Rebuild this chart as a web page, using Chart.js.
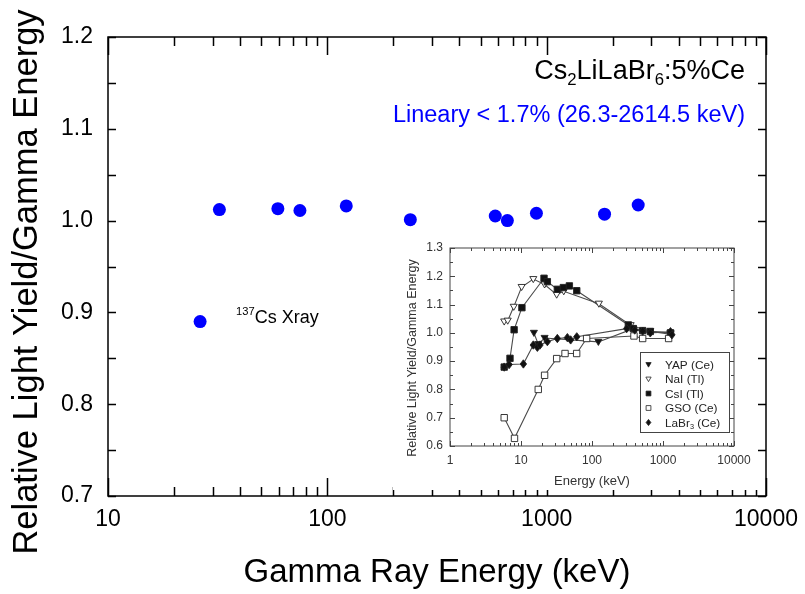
<!DOCTYPE html>
<html>
<head>
<meta charset="utf-8">
<script src="https://cdn.jsdelivr.net/npm/chart.js@4/dist/chart.umd.min.js"></script>
<style>
  body { margin: 0; background: #fff; }
  #wrap { position: relative; width: 805px; height: 594px; }
  #mainChart { position: absolute; left: 0; top: 0; }
  #insetChart { position: absolute; left: 393px; top: 233px; background: #fff; }
</style>
</head>
<body>
<div id="wrap">
  <canvas id="mainChart" width="805" height="594"></canvas>
  <canvas id="insetChart" width="365" height="257"></canvas>
</div>
<script>
// main chart: Cs2LiLaBr6:5%Ce
var energies = [26.3, 32.2, 59.5, 75, 122, 239, 583, 662, 898, 1836, 2614.5];
var yields = [0.890, 1.012, 1.013, 1.011, 1.016, 1.001, 1.005, 1.000, 1.008, 1.007, 1.017];
var xTicks = [10, 100, 1000, 10000];
var yTicks = [0.7, 0.8, 0.9, 1.0, 1.1, 1.2];

// inset chart: other scintillators
var insetXTicks = [1, 10, 100, 1000, 10000];
var insetYTicks = [0.6, 0.7, 0.8, 0.9, 1.0, 1.1, 1.2, 1.3];
var yapE = [15.2, 17.5, 21.5, 123, 382, 662, 1275];
var yapY = [1.00, 0.96, 0.982, 0.968, 1.015, 1.005, 0.995];
var naiE = [5.8, 6.5, 7.9, 10.2, 14.9, 21.5, 31.8, 40, 125, 350, 662, 1275];
var naiY = [1.04, 1.043, 1.092, 1.162, 1.19, 1.171, 1.135, 1.147, 1.103, 1.027, 1.005, 1.00];
var csiE = [5.8, 7.0, 8.0, 10.3, 21.1, 23.5, 32.5, 39.5, 48, 61, 325, 382, 517, 662, 1275];
var csiY = [0.879, 0.91, 1.011, 1.089, 1.193, 1.181, 1.154, 1.16, 1.166, 1.149, 1.028, 1.015, 1.008, 1.005, 1.00];
var gsoE = [5.8, 8.1, 17.5, 21.5, 31.8, 41.7, 60.8, 84, 390, 517, 1200];
var gsoY = [0.70, 0.627, 0.80, 0.85, 0.909, 0.927, 0.927, 0.98, 0.989, 0.98, 0.98];
var labE = [5.8, 6.8, 10.8, 14.9, 17, 18.5, 23.5, 32.5, 45, 50, 61, 308, 400, 517, 662, 1275, 1333];
var labY = [0.879, 0.888, 0.89, 0.957, 0.949, 0.957, 0.969, 0.98, 0.983, 0.975, 0.986, 1.015, 1.01, 1.006, 1.00, 1.004, 0.993];

var FONT = 'Liberation Sans, Arial, sans-serif';

function pts(xs, ys) {
  return xs.map(function (x, i) { return { x: x, y: ys[i] }; });
}

// keep the plot area exactly where the layout padding puts it
function noOverflow(s) {
  s.paddingLeft = 0; s.paddingRight = 0; s.paddingTop = 0; s.paddingBottom = 0;
}

// box round the plot with inward ticks on all four sides
var frameTicks = {
  id: 'frameTicks',
  afterDraw: function (chart, args, o) {
    var ctx = chart.ctx, a = chart.chartArea;
    var xs = chart.scales.x, ys = chart.scales.y;
    ctx.save();
    ctx.strokeStyle = o.color;
    ctx.lineWidth = o.width;
    ctx.strokeRect(a.left, a.top, a.right - a.left, a.bottom - a.top);
    ctx.beginPath();
    var e0 = Math.round(Math.log10(xs.min)), e1 = Math.round(Math.log10(xs.max));
    for (var e = e0; e <= e1; e++) {
      for (var k = 1; k <= 9; k++) {
        var v = k * Math.pow(10, e);
        if (v > xs.max * 1.0001) break;
        var px = Math.round(xs.getPixelForValue(v)) + 0.5;
        var len = k === 1 ? o.major : o.minor;
        ctx.moveTo(px, a.bottom); ctx.lineTo(px, a.bottom - len);
        ctx.moveTo(px, a.top); ctx.lineTo(px, a.top + len);
      }
    }
    var n = Math.round((ys.max - ys.min) / o.yStep);
    for (var i = 0; i <= n; i++) {
      var py = Math.round(ys.getPixelForValue(ys.min + i * o.yStep)) + 0.5;
      var yl = (i % 2 === 0) ? o.yMajor : o.yMinor;
      ctx.moveTo(a.left, py); ctx.lineTo(a.left + yl, py);
      ctx.moveTo(a.right, py); ctx.lineTo(a.right - yl, py);
    }
    ctx.stroke();
    ctx.restore();
  }
};

// text with sub / superscripts
function drawRuns(ctx, runs, x, y, size, color, align) {
  var w = 0;
  runs.forEach(function (r) {
    ctx.font = (r.s ? size * 0.62 : size) + 'px ' + FONT;
    r.w = ctx.measureText(r.t).width;
    w += r.w;
  });
  var cx = align === 'right' ? x - w : x;
  ctx.fillStyle = color;
  ctx.textBaseline = 'alphabetic';
  ctx.textAlign = 'left';
  runs.forEach(function (r) {
    ctx.font = (r.s ? size * 0.62 : size) + 'px ' + FONT;
    var dy = r.s === 'sub' ? size * 0.22 : (r.s === 'sup' ? -size * 0.42 : 0);
    ctx.fillText(r.t, cx, y + dy);
    cx += r.w;
  });
}

// rotated axis title, placed by centre point
function drawVTitle(ctx, text, cx, cy, size, color) {
  ctx.save();
  ctx.translate(cx, cy);
  ctx.rotate(-Math.PI / 2);
  ctx.font = size + 'px ' + FONT;
  ctx.fillStyle = color;
  ctx.textAlign = 'center';
  ctx.textBaseline = 'middle';
  ctx.fillText(text, 0, 0);
  ctx.restore();
}

var notes = {
  id: 'notes',
  afterDraw: function (chart) {
    var ctx = chart.ctx, a = chart.chartArea;
    var xs = chart.scales.x, ys = chart.scales.y;
    ctx.save();
    drawVTitle(ctx, 'Relative Light Yield/Gamma Energy', 27, 282, 34.5, '#000');
    drawRuns(ctx, [{ t: 'Cs' }, { t: '2', s: 'sub' }, { t: 'LiLaBr' }, { t: '6', s: 'sub' }, { t: ':5%Ce' }],
      a.right - 21, 79, 27, '#000', 'right');
    drawRuns(ctx, [{ t: 'Lineary < 1.7% (26.3-2614.5 keV)' }], a.right - 21, 122, 23.5, '#0000ff', 'right');
    var px = xs.getPixelForValue(energies[0]), py = ys.getPixelForValue(yields[0]);
    drawRuns(ctx, [{ t: '137', s: 'sup' }, { t: 'Cs Xray' }], px + 36, py + 1, 18, '#000', 'left');
    ctx.restore();
  }
};

new Chart(document.getElementById('mainChart'), {
  type: 'scatter',
  data: {
    datasets: [{
      data: pts(energies, yields),
      backgroundColor: '#0000ff',
      borderColor: '#0000ff',
      pointRadius: 6.5,
      pointHoverRadius: 6.5,
      borderWidth: 0
    }]
  },
  options: {
    responsive: false,
    animation: false,
    layout: { padding: { top: 37, right: 39, left: 0, bottom: 0 } },
    plugins: {
      legend: { display: false },
      tooltip: { enabled: false },
      frameTicks: { color: '#000', width: 1.5, major: 18, minor: 9, yStep: 0.05, yMajor: 8, yMinor: 8 }
    },
    scales: {
      x: {
        type: 'logarithmic', min: 10, max: 10000,
        grid: { display: false, drawTicks: false },
        border: { display: false },
        afterBuildTicks: function (s) { s.ticks = xTicks.map(function (v) { return { value: v }; }); },
        afterFit: function (s) { s.height = 98; noOverflow(s); },
        ticks: {
          autoSkip: false, maxRotation: 0, padding: 10, color: '#000',
          font: { family: FONT, size: 23 },
          callback: function (v) { return String(v); }
        },
        title: {
          display: true, text: 'Gamma Ray Energy (keV)', color: '#000',
          font: { family: FONT, size: 33 }, padding: { top: 0, bottom: 1 }
        }
      },
      y: {
        min: 0.7, max: 1.2,
        grid: { display: false, drawTicks: false },
        border: { display: false },
        afterBuildTicks: function (s) { s.ticks = yTicks.map(function (v) { return { value: v }; }); },
        afterFit: function (s) { s.width = 108; noOverflow(s); },
        ticks: {
          padding: 15, color: '#000',
          font: { family: FONT, size: 23 },
          callback: function (v) { return v.toFixed(1); }
        }
      }
    }
  },
  plugins: [frameTicks, notes]
});

// ---------- inset ----------
function markPath(ctx, style, r, x, y) {
  ctx.beginPath();
  if (style === 'rect') {
    ctx.rect(x - r, y - r, 2 * r, 2 * r);
  } else if (style === 'rectRot') {
    ctx.moveTo(x, y - r * 1.3); ctx.lineTo(x + r, y); ctx.lineTo(x, y + r * 1.3); ctx.lineTo(x - r, y);
    ctx.closePath();
  } else {
    ctx.moveTo(x - r * 1.1, y - r * 0.8); ctx.lineTo(x + r * 1.1, y - r * 0.8); ctx.lineTo(x, y + r * 1.1);
    ctx.closePath();
  }
}

var insetLegend = {
  id: 'insetLegend',
  afterDraw: function (chart) {
    var ctx = chart.ctx, a = chart.chartArea;
    var sets = chart.data.datasets;
    drawVTitle(ctx, 'Relative Light Yield/Gamma Energy', 20, 125, 12.5, '#333');
    var right = a.right - 5, bottom = a.bottom - 14, w = 89, h = 80, rowH = 14.5;
    var left = right - w, top = bottom - h;
    ctx.save();
    ctx.fillStyle = '#fff';
    ctx.fillRect(left, top, w, h);
    ctx.strokeStyle = '#444';
    ctx.lineWidth = 1;
    ctx.strokeRect(left + 0.5, top + 0.5, w, h);
    sets.forEach(function (ds, i) {
      var cy = top + 12.5 + i * rowH;
      ctx.fillStyle = ds.backgroundColor;
      ctx.strokeStyle = '#222';
      ctx.lineWidth = 0.8;
      markPath(ctx, ds.pointStyle, 2.4, left + 8.5, cy);
      ctx.fill();
      ctx.stroke();
      var runs = ds.label === 'LaBr3 (Ce)'
        ? [{ t: 'LaBr' }, { t: '3', s: 'sub' }, { t: ' (Ce)' }]
        : [{ t: ds.label }];
      drawRuns(ctx, runs, left + 25, cy + 4.2, 11.8, '#222', 'left');
    });
    ctx.restore();
  }
};

var insetMarks = {
  id: 'insetMarks',
  afterDatasetsDraw: function (chart) {
    var ctx = chart.ctx;
    ctx.save();
    chart.data.datasets.forEach(function (ds, i) {
      chart.getDatasetMeta(i).data.forEach(function (el) {
        ctx.fillStyle = ds.backgroundColor;
        ctx.strokeStyle = '#222';
        ctx.lineWidth = 0.9;
        markPath(ctx, ds.pointStyle, 3.2, el.x, el.y);
        ctx.fill();
        ctx.stroke();
      });
    });
    ctx.restore();
  }
};

function insetSet(label, xs, ys, fill, style) {
  return {
    label: label, data: pts(xs, ys), showLine: true,
    borderColor: '#4a4a4a', borderWidth: 1.1, backgroundColor: fill,
    pointStyle: style, pointRadius: 0, pointHoverRadius: 0
  };
}

new Chart(document.getElementById('insetChart'), {
  type: 'scatter',
  data: {
    datasets: [
      insetSet('YAP (Ce)', yapE, yapY, '#111', 'triangle'),
      insetSet('NaI (Tl)', naiE, naiY, '#fff', 'triangle'),
      insetSet('CsI (Tl)', csiE, csiY, '#111', 'rect'),
      insetSet('GSO (Ce)', gsoE, gsoY, '#fff', 'rect'),
      insetSet('LaBr3 (Ce)', labE, labY, '#111', 'rectRot')
    ]
  },
  options: {
    responsive: false,
    animation: false,
    layout: { padding: { top: 15, right: 24, left: 0, bottom: 0 } },
    plugins: {
      legend: { display: false },
      tooltip: { enabled: false },
      frameTicks: { color: '#444', width: 1, major: 5, minor: 3, yStep: 0.05, yMajor: 5, yMinor: 3 }
    },
    scales: {
      x: {
        type: 'logarithmic', min: 1, max: 10000,
        grid: { display: false, drawTicks: false },
        border: { display: false },
        afterBuildTicks: function (s) { s.ticks = insetXTicks.map(function (v) { return { value: v }; }); },
        afterFit: function (s) { s.height = 44; noOverflow(s); },
        ticks: {
          autoSkip: false, maxRotation: 0, padding: 7, color: '#333',
          font: { family: FONT, size: 12 },
          callback: function (v) { return String(v); }
        },
        title: {
          display: true, text: 'Energy (keV)', color: '#333',
          font: { family: FONT, size: 13 }, padding: { top: 0, bottom: 1 }
        }
      },
      y: {
        min: 0.6, max: 1.3,
        grid: { display: false, drawTicks: false },
        border: { display: false },
        afterBuildTicks: function (s) { s.ticks = insetYTicks.map(function (v) { return { value: v }; }); },
        afterFit: function (s) { s.width = 57; noOverflow(s); },
        ticks: {
          padding: 7, color: '#333',
          font: { family: FONT, size: 12 },
          callback: function (v) { return v.toFixed(1); }
        }
      }
    }
  },
  plugins: [frameTicks, insetMarks, insetLegend]
});
</script>
</body>
</html>
